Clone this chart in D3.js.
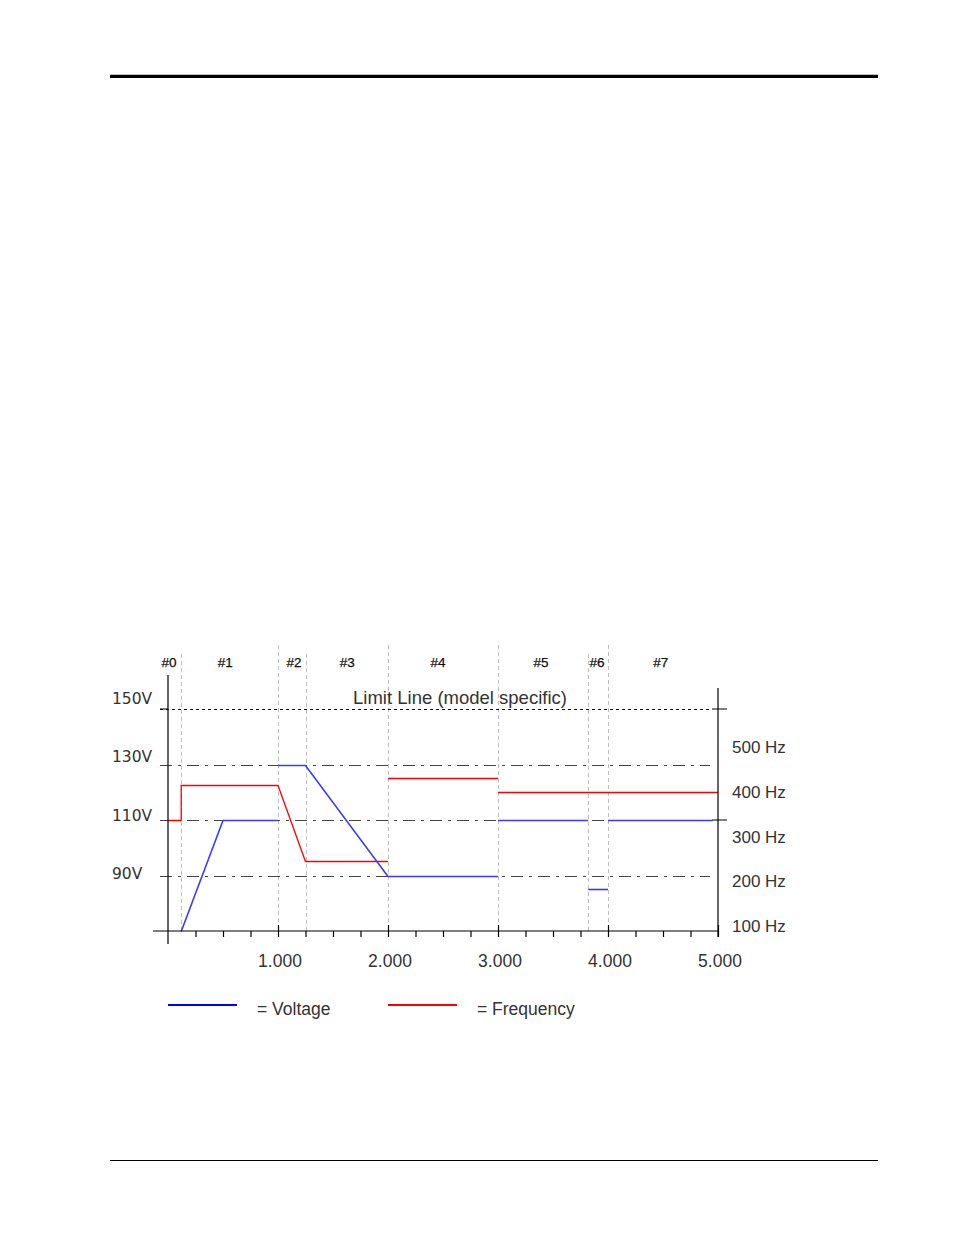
<html>
<head>
<meta charset="utf-8">
<title>Voltage / Frequency program</title>
<style>
body { margin:0; padding:0; background:white; }
svg text { font-family: Arial, "Liberation Sans", sans-serif; fill:#333; }
</style>
</head>
<body>
<svg id="page" width="954" height="1235"></svg>
<script src="https://d3js.org/d3.v7.min.js"></script>
<script>
// program data (time in seconds, voltage in V, frequency in Hz)
var stageNames = ["#0", "#1", "#2", "#3", "#4", "#5", "#6", "#7"];
var stageLabelTimes = [0.01, 0.52, 1.145, 1.63, 2.455, 3.39, 3.9, 4.48];
var stageBounds = [0.12, 1.0, 1.25, 2.0, 3.0, 3.82, 4.0];
var voltTicks = [90, 110, 130, 150];
var freqTicks = [100, 200, 300, 400, 500];
var timeTicks = [1, 2, 3, 4, 5];
var limitVolt = 150;
var refVolts = [90, 110, 130];

var voltSegments = [
    [[0.12, 70], [0.5, 110], [1.0, 110]],
    [[1.0, 130], [1.25, 130], [2.0, 90], [3.0, 90]],
    [[3.0, 110], [3.82, 110]],
    [[3.82, 85], [4.0, 85]],
    [[4.0, 110], [4.95, 110]]
];
var freqSegments = [
    [[0, 338], [0.12, 338], [0.12, 416], [1.0, 416], [1.25, 246], [2.0, 246]],
    [[2.0, 431], [3.0, 431]],
    [[3.0, 400], [5.0, 400]]
];

var svg = d3.select("#page");

// page rules
svg.append("line").attr("x1", 110).attr("x2", 878).attr("y1", 76.3).attr("y2", 76.3)
    .attr("stroke", "black").attr("stroke-width", 3.2);
svg.append("line").attr("x1", 110).attr("x2", 878).attr("y1", 1160.5).attr("y2", 1160.5)
    .attr("stroke", "black").attr("stroke-width", 1);

var x = d3.scaleLinear().domain([0, 5]).range([168, 718]);
var yV = d3.scaleLinear().domain([70, 150]).range([931, 709]);
var yF = d3.scaleLinear().domain([100, 400]).range([926, 792]);
// the volt labels sit a little off their lines, spread wider than the grid
var yVLabel = d3.scaleLinear().domain([90, 150]).range([879, 704]);

var chart = svg.append("g");

// stage boundaries
chart.selectAll(".stage").data(stageBounds).enter().append("line")
    .attr("x1", function(d) { return Math.round(x(d)) + 0.5; })
    .attr("x2", function(d) { return Math.round(x(d)) + 0.5; })
    .attr("y1", function(d) { return Number.isInteger(d) ? 645 : 654; })
    .attr("y2", yV(70))
    .attr("stroke", "#bdbdbd").attr("stroke-width", 1).attr("stroke-dasharray", "4,3");

// stage labels
chart.selectAll(".stageLabel").data(stageNames).enter().append("text")
    .attr("x", function(d, i) { return x(stageLabelTimes[i]); })
    .attr("y", 667)
    .attr("text-anchor", "middle")
    .attr("font-size", 13.5)
    .style("fill", "#111")
    .style("stroke", "#111").style("stroke-width", 0.25)
    .text(function(d) { return d; });

// limit line
chart.append("line")
    .attr("x1", 160).attr("x2", 712)
    .attr("y1", Math.round(yV(limitVolt)) + 0.5).attr("y2", Math.round(yV(limitVolt)) + 0.5)
    .attr("stroke", "#111").attr("stroke-width", 1).attr("stroke-dasharray", "3,3");
chart.append("text")
    .attr("x", 460).attr("y", yV(limitVolt) - 5)
    .attr("text-anchor", "middle").attr("font-size", 18.5)
    .text("Limit Line (model specific)");

// reference lines
chart.selectAll(".ref").data(refVolts).enter().append("line")
    .attr("x1", 160).attr("x2", 710)
    .attr("y1", function(d) { return Math.round(yV(d)) + 0.5; })
    .attr("y2", function(d) { return Math.round(yV(d)) + 0.5; })
    .attr("stroke", "#444").attr("stroke-width", 1.1).attr("stroke-dasharray", "12,6,3,6");

// data lines
var voltLine = d3.line().x(function(d) { return x(d[0]); }).y(function(d) { return Math.round(yV(d[1])) + 0.5; });
var freqLine = d3.line().x(function(d) { return x(d[0]); }).y(function(d) { return Math.round(yF(d[1])) + 0.5; });

chart.selectAll(".freq").data(freqSegments).enter().append("path")
    .attr("d", freqLine).attr("fill", "none")
    .attr("stroke", "#ff0000").attr("stroke-width", 1.3);
chart.selectAll(".volt").data(voltSegments).enter().append("path")
    .attr("d", voltLine).attr("fill", "none")
    .attr("stroke", "#3a3aff").attr("stroke-width", 1.6);

// left axis
chart.append("line").attr("x1", 168).attr("x2", 168).attr("y1", 675).attr("y2", 944)
    .attr("stroke", "black").attr("stroke-width", 1.2);
chart.append("line").attr("x1", 160).attr("x2", 168)
    .attr("y1", yV(150)).attr("y2", yV(150)).attr("stroke", "black");
chart.selectAll(".vlab").data(voltTicks).enter().append("text")
    .attr("x", 112)
    .attr("y", function(d) { return yVLabel(d); })
    .attr("font-size", 15.5)
    .style("font-family", "'DejaVu Sans', Verdana, sans-serif")
    .text(function(d) { return d + "V"; });

// right axis
chart.append("line").attr("x1", 718).attr("x2", 718).attr("y1", 688).attr("y2", 937)
    .attr("stroke", "black").attr("stroke-width", 1.2);
chart.selectAll(".rtick").data([150, 110]).enter().append("line")
    .attr("x1", 712).attr("x2", 727)
    .attr("y1", function(d) { return yV(d); })
    .attr("y2", function(d) { return yV(d); })
    .attr("stroke", "black");
chart.selectAll(".flab").data(freqTicks).enter().append("text")
    .attr("x", 732)
    .attr("y", function(d) { return yF(d); })
    .attr("dy", "0.36em")
    .attr("font-size", 17)
    .text(function(d) { return d + " Hz"; });

// bottom axis
var minor = d3.range(1, 21).map(function(i) { return i * 0.25; });
var bottom = chart.append("g").attr("transform", "translate(0," + yV(70) + ")");
bottom.call(d3.axisBottom(x).tickValues(minor).tickSize(6).tickFormat(""));
bottom.select(".domain").remove();
bottom.selectAll(".tick line").attr("stroke-width", 1.2)
    .attr("y1", function(d) { return Number.isInteger(d) ? -6 : 0; });
bottom.append("line").attr("x1", 153).attr("x2", 718).attr("y1", 0).attr("y2", 0)
    .attr("stroke", "black").attr("stroke-width", 1.2);

var labels = chart.append("g").attr("transform", "translate(0," + (yV(70) + 36) + ")");
labels.selectAll("text").data(timeTicks).enter().append("text")
    .attr("x", function(d) { return x(d) + 2; })
    .attr("text-anchor", "middle")
    .attr("font-size", 17.5)
    .text(d3.format(".3f"));

// legend
var legend = svg.append("g").attr("transform", "translate(0,1005)");
var legendItems = [
    { name: "= Voltage", color: "#0000ff", x0: 168 },
    { name: "= Frequency", color: "#ff0000", x0: 388 }
];
legendItems.forEach(function(item) {
    legend.append("line").attr("x1", item.x0).attr("x2", item.x0 + 69)
        .attr("y1", 0).attr("y2", 0)
        .attr("stroke", item.color).attr("stroke-width", 2);
    legend.append("text").attr("x", item.x0 + 89).attr("y", 10)
        .attr("font-size", 17.5).text(item.name);
});
</script>
</body>
</html>
